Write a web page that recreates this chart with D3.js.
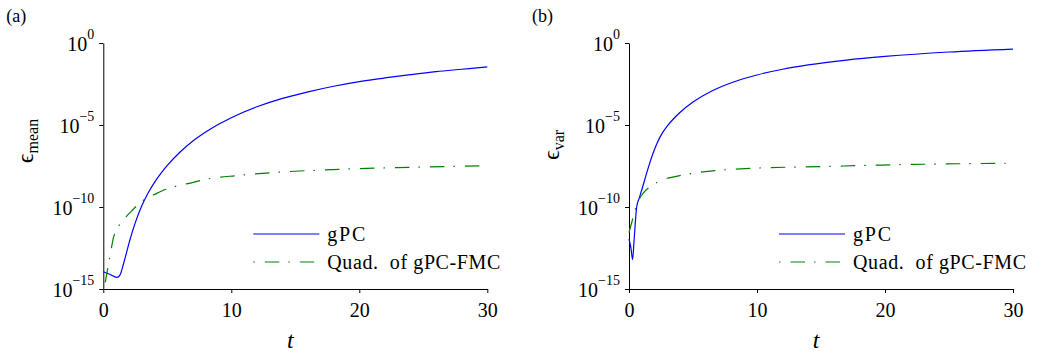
<!DOCTYPE html>
<html>
<head>
<meta charset="utf-8">
<script src="https://cdn.jsdelivr.net/npm/d3@7"></script>
<style>
  body { margin: 0; background: #fff; }
</style>
</head>
<body>
<svg id="chart" width="1037" height="356"></svg>
<script>
// error of the mean, panel (a)
const tMeanGpc = [0, 0.5, 1.05, 1.3, 1.6, 2.08, 2.5, 3.0, 3.5, 4.0, 4.5, 5, 6, 7, 8, 9, 10, 12, 14, 16, 18, 20, 22, 24, 26, 28, 30];
const meanGpc = [1.12e-14, 7.9e-15, 5.1e-15, 7.1e-15, 4.0e-14, 1.0e-12, 1.12e-11, 1.15e-10, 7.1e-10, 3.2e-9, 1.12e-8, 3.4e-8, 2.24e-7, 1.05e-6, 3.7e-6, 1.12e-5, 2.8e-5, 1.29e-4, 4.2e-4, 1.05e-3, 2.3e-3, 4.4e-3, 7.4e-3, 1.17e-2, 1.78e-2, 2.5e-2, 3.5e-2];
const tMeanQuad = [0.15, 0.52, 0.8, 1.17, 1.83, 2.2, 2.87, 4.17, 4.56, 5.47, 7.03, 8.08, 10.5, 13.28, 18.5, 22.9, 30];
const meanQuad = [2.5e-15, 1.0e-13, 1.4e-12, 6.3e-12, 2.8e-11, 5.6e-11, 1.8e-10, 6.8e-10, 9.5e-10, 1.66e-9, 3.2e-9, 5.0e-9, 8.3e-9, 1.26e-8, 2.0e-8, 2.5e-8, 3.3e-8];

// error of the variance, panel (b)
const tVarGpc = [0, 0.15, 0.28, 0.4, 0.6, 0.8, 1.0, 1.3, 1.6, 1.9, 2.2, 2.6, 3.0, 3.5, 4.0, 5.0, 6.5, 8, 10, 12, 14, 17, 20, 25, 30];
const varGpc = [1.12e-12, 3.2e-13, 6.3e-14, 1.0e-12, 1.0e-10, 3.5e-10, 1.12e-9, 7.1e-9, 4.3e-8, 2.1e-7, 8.1e-7, 3.2e-6, 8.9e-6, 2.5e-5, 6.0e-5, 2.5e-4, 1.23e-3, 3.8e-3, 1.12e-2, 2.5e-2, 4.6e-2, 9.1e-2, 0.151, 0.282, 0.427];
const tVarQuad = [0, 0.3, 0.6, 1.1, 1.77, 2.65, 4.2, 5.3, 7.1, 9.7, 14.9, 19.6, 30];
const varQuad = [2.8e-12, 2.0e-11, 1.32e-10, 6.8e-10, 2.0e-9, 4.5e-9, 8.9e-9, 1.23e-8, 1.74e-8, 2.3e-8, 2.9e-8, 3.6e-8, 4.7e-8];

const xTicks = [0, 10, 20, 30];
const yTicks = [1, 1e-5, 1e-10, 1e-15];
const yExponents = ["0", "\u22125", "\u221210", "\u221215"];
const legendLabels = ["gPC", "Quad.  of gPC-FMC"];
const legendWidths = [38, 173];

const serif = '"Liberation Serif", "Times New Roman", Times, serif';

const svg = d3.select("#chart");
const plotW = 384, plotH = 246, plotTop = 43;

const drawPanel = (left, tag, sub, subY, gpc, quad) => {
  const g = svg.append("g").attr("transform", `translate(${left},${plotTop})`);

  const x = d3.scaleLinear().domain([0, 30]).range([0, plotW]);
  const y = d3.scaleLog().domain([1e-15, 1]).range([plotH, 0]);

  // x axis
  const xAxisG = g.append("g")
    .attr("transform", `translate(0,${plotH})`)
    .call(d3.axisBottom(x).tickValues(xTicks).tickSize(4).tickSizeOuter(0));
  xAxisG.selectAll("text").style("font-size", "20px").attr("dy", "1.05em");

  // y axis with 10^n labels
  const yAxisG = g.append("g")
    .call(d3.axisLeft(y).tickValues(yTicks).tickSize(4).tickSizeOuter(0).tickFormat(""));
  yAxisG.selectAll(".tick text").each(function (d, i) {
    const t = d3.select(this).attr("x", -9).attr("dy", "0.38em").style("font-size", "20px");
    t.append("tspan").text("10");
    t.append("tspan").attr("dy", -12).style("font-size", "14px").text(yExponents[i]);
  });
  g.selectAll(".domain, .tick line").attr("stroke", "#000").attr("stroke-width", 1);

  // curves
  const line = d3.line()
    .x((d) => x(d[0]))
    .y((d) => y(d[1]))
    .curve(d3.curveMonotoneX);

  g.append("path")
    .datum(d3.zip(gpc[0], gpc[1]))
    .attr("d", line)
    .attr("fill", "none")
    .attr("stroke", "#0000ff")
    .attr("stroke-width", 1.2);

  g.append("path")
    .datum(d3.zip(quad[0], quad[1]))
    .attr("d", line)
    .attr("fill", "none")
    .attr("stroke", "#008000")
    .attr("stroke-width", 1.2)
    .attr("stroke-dasharray", "14.5,9,1.5,10");

  // legend
  const leg = g.append("g");
  legendLabels.forEach((name, i) => {
    const ly = 191 + i * 28;
    leg.append("line")
      .attr("x1", 150).attr("x2", 216)
      .attr("y1", ly).attr("y2", ly)
      .attr("stroke", i == 0 ? "#0000ff" : "#008000")
      .attr("stroke-width", 1.2)
      .attr("stroke-dasharray", i == 0 ? null : "1.5,10,14.5,9");
    leg.append("text")
      .attr("x", 224).attr("y", ly + 7)
      .attr("textLength", legendWidths[i])
      .attr("lengthAdjust", "spacing")
      .style("font-size", "20px")
      .style("white-space", "pre")
      .text(name);
  });

  // axis titles
  g.append("text")
    .attr("x", plotW / 2 - 5).attr("y", 305)
    .attr("text-anchor", "middle")
    .style("font-size", "24px")
    .style("font-style", "italic")
    .text("t");

  const yl = g.append("text")
    .attr("transform", `translate(-70,${subY}) rotate(-90)`)
    .attr("text-anchor", "middle");
  yl.append("tspan").style("font-size", "24px").text("\u03f5");
  yl.append("tspan").attr("dy", 5).style("font-size", "16px").text(sub);

  svg.append("text")
    .attr("x", left - 97).attr("y", 22)
    .style("font-size", "18px")
    .text(tag);
};

drawPanel(103.3, "(a)", "mean", 98, [tMeanGpc, meanGpc], [tMeanQuad, meanQuad]);
drawPanel(629, "(b)", "var", 102, [tVarGpc, varGpc], [tVarQuad, varQuad]);

svg.selectAll("text").style("font-family", serif).attr("fill", "#000");
</script>
</body>
</html>
